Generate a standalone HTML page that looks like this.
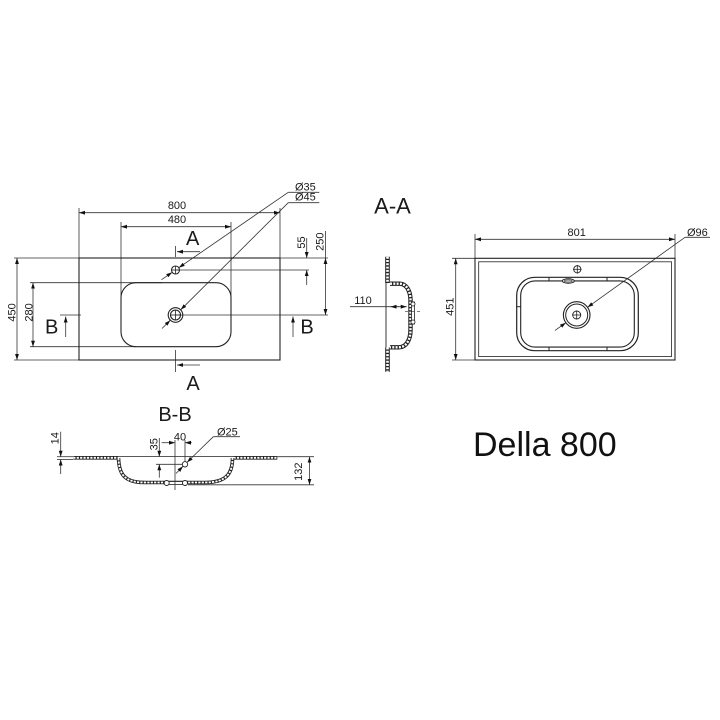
<!DOCTYPE html>
<html><head><meta charset="utf-8"><style>
html,body{margin:0;padding:0;background:#fff;}
svg{display:block;}
text{font-family:"Liberation Sans",sans-serif;fill:#1a1a1a;}
.d{font-size:11px;}
.s{font-size:20px;}
</style></head><body>
<svg width="720" height="720" viewBox="0 0 720 720" xmlns="http://www.w3.org/2000/svg">
<defs>
<marker id="a" viewBox="0 0 10 10" refX="10" refY="5" markerWidth="6" markerHeight="6" orient="auto-start-reverse" markerUnits="userSpaceOnUse">
<path d="M0,1.8 L10,5 L0,8.2 z" fill="#111"/>
</marker>
</defs>
<rect width="720" height="720" fill="#fff"/>

<!-- ================= TOP VIEW ================= -->
<g stroke="#333" stroke-width="0.8" fill="none">
  <line x1="79" y1="208" x2="79" y2="258"/>
  <line x1="280" y1="208" x2="280" y2="258"/>
  <line x1="79" y1="212.7" x2="280" y2="212.7" marker-start="url(#a)" marker-end="url(#a)"/>
  <line x1="121" y1="222" x2="121" y2="297"/>
  <line x1="231" y1="222" x2="231" y2="297"/>
  <line x1="121" y1="226.7" x2="231" y2="226.7" marker-start="url(#a)" marker-end="url(#a)"/>
  <line x1="14" y1="258" x2="328" y2="258"/>
  <line x1="14" y1="360" x2="79" y2="360"/>
  <line x1="30" y1="282.7" x2="162" y2="282.7"/>
  <line x1="30" y1="346.7" x2="136" y2="346.7"/>
  <line x1="175.5" y1="270" x2="309" y2="270"/>
  <line x1="175.5" y1="315" x2="328" y2="315"/>
  <line x1="60" y1="315" x2="81" y2="315"/>
  <line x1="17" y1="258" x2="17" y2="360" marker-start="url(#a)" marker-end="url(#a)"/>
  <line x1="33" y1="282.7" x2="33" y2="346.7" marker-start="url(#a)" marker-end="url(#a)"/>
  <line x1="306.7" y1="238" x2="306.7" y2="258" marker-end="url(#a)"/>
  <line x1="306.7" y1="285" x2="306.7" y2="270" marker-end="url(#a)"/>
  <line x1="325.5" y1="231" x2="325.5" y2="258"/>
  <line x1="325.5" y1="258" x2="325.5" y2="315" marker-start="url(#a)" marker-end="url(#a)"/>
  <line x1="175.5" y1="246" x2="175.5" y2="257"/>
  <line x1="200" y1="251.7" x2="177" y2="251.7" marker-end="url(#a)"/>
  <line x1="175.5" y1="350" x2="175.5" y2="372"/>
  <line x1="200" y1="365" x2="177" y2="365" marker-end="url(#a)"/>
  <line x1="65.7" y1="337" x2="65.7" y2="316.5" marker-end="url(#a)"/>
  <line x1="293" y1="337" x2="293" y2="316.5" marker-end="url(#a)"/>
  <line x1="288.3" y1="192.3" x2="319.3" y2="192.3"/>
  <line x1="288.3" y1="192.3" x2="178.8" y2="267.7" marker-end="url(#a)"/>
  <line x1="161.5" y1="279.7" x2="172.2" y2="272.3" marker-end="url(#a)"/>
  <line x1="288.3" y1="202.7" x2="319.3" y2="202.7"/>
  <line x1="288.3" y1="202.7" x2="180.7" y2="309.8" marker-end="url(#a)"/>
  <line x1="162" y1="328.5" x2="170.3" y2="320.2" marker-end="url(#a)"/>
</g>
<g stroke="#222" stroke-width="1.1" fill="none">
  <rect x="79" y="258" width="201" height="102"/>
  <rect x="121" y="282.7" width="110" height="64" rx="15"/>
  <circle cx="175.5" cy="270" r="4"/>
  <line x1="171.5" y1="270" x2="179.5" y2="270" stroke-width="0.8"/>
  <line x1="175.5" y1="266" x2="175.5" y2="274" stroke-width="0.8"/>
  <circle cx="175.5" cy="315" r="7.3"/>
  <circle cx="175.5" cy="315" r="5"/>
  <line x1="170.5" y1="315" x2="180.5" y2="315" stroke-width="0.8"/>
  <line x1="175.5" y1="310" x2="175.5" y2="320" stroke-width="0.8"/>
</g>
<text class="d" x="177" y="209" text-anchor="middle">800</text>
<text class="d" x="177" y="223" text-anchor="middle">480</text>
<text class="d" x="295" y="190.7">Ø35</text>
<text class="d" x="295" y="200.7">Ø45</text>
<text class="d" transform="translate(15.5,312.5) rotate(-90)" text-anchor="middle">450</text>
<text class="d" transform="translate(32.5,312.5) rotate(-90)" text-anchor="middle">280</text>
<text class="d" transform="translate(305,242.5) rotate(-90)" text-anchor="middle">55</text>
<text class="d" transform="translate(323.5,241.7) rotate(-90)" text-anchor="middle">250</text>
<text class="s" x="192.7" y="245" text-anchor="middle">A</text>
<text class="s" x="193" y="390" text-anchor="middle">A</text>
<text class="s" x="51.7" y="333.3" text-anchor="middle">B</text>
<text class="s" x="307" y="333.3" text-anchor="middle">B</text>

<!-- ================= A-A SECTION ================= -->
<text x="392.5" y="213.3" text-anchor="middle" style="font-size:22px;">A-A</text>
<g fill="none">
  <path d="M387.5,256.7 L387.5,283 M387.5,347.5 L387.5,371.7" stroke="#222" stroke-width="4.6"/>
  <path d="M387.5,256.7 L387.5,283 M387.5,347.5 L387.5,371.7" stroke="#fff" stroke-width="2.6" stroke-dasharray="2 1.3"/>
  <path d="M390,283.7 L400,283.7 C407,284 410.5,292 410.5,300 L410.5,330 C410.5,340 406,347.3 399,347.3 L390,347.3" stroke="#222" stroke-width="4.4"/>
  <path d="M390,283.7 L400,283.7 C407,284 410.5,292 410.5,300 L410.5,330 C410.5,340 406,347.3 399,347.3 L390,347.3" stroke="#fff" stroke-width="2.4" stroke-dasharray="2 1.3"/>
  <line x1="386" y1="283" x2="386" y2="347.5" stroke="#222" stroke-width="0.9"/>
  <rect x="411.5" y="302" width="3" height="22" stroke="#222" stroke-width="0.8" fill="#fff"/>
  <circle cx="413" cy="304" r="2" stroke="#222" stroke-width="0.8" fill="#fff"/>
  <circle cx="413" cy="322" r="2" stroke="#222" stroke-width="0.8" fill="#fff"/>
  <line x1="405" y1="311.7" x2="421" y2="311.7" stroke="#333" stroke-width="0.7" stroke-dasharray="3 3"/>
  <line x1="350" y1="306.7" x2="406.7" y2="306.7" stroke="#333" stroke-width="0.8" marker-end="url(#a)"/>
  <line x1="399" y1="306.7" x2="390.5" y2="306.7" stroke="#333" stroke-width="0.8" marker-end="url(#a)"/>
</g>
<text class="d" x="363" y="304" text-anchor="middle">110</text>

<!-- ================= RIGHT VIEW ================= -->
<g stroke="#333" stroke-width="0.8" fill="none">
  <line x1="475" y1="234" x2="475" y2="258"/>
  <line x1="675" y1="234" x2="675" y2="258"/>
  <line x1="475" y1="239.3" x2="675" y2="239.3" marker-start="url(#a)" marker-end="url(#a)"/>
  <line x1="452" y1="258.3" x2="475" y2="258.3"/>
  <line x1="452" y1="360" x2="475" y2="360"/>
  <line x1="455.7" y1="258.3" x2="455.7" y2="360" marker-start="url(#a)" marker-end="url(#a)"/>
  <line x1="685" y1="237.3" x2="710" y2="237.3"/>
  <line x1="685" y1="237.3" x2="587.5" y2="307.3" marker-end="url(#a)"/>
  <line x1="555" y1="330.4" x2="565.9" y2="322.7" marker-end="url(#a)"/>
</g>
<g stroke="#222" fill="none">
  <rect x="475" y="258.3" width="200" height="101.7" stroke-width="1.1"/>
  <rect x="478.7" y="261.8" width="192.8" height="94.8" stroke-width="0.8"/>
  <rect x="516.7" y="277.3" width="121.6" height="73.4" rx="18" stroke-width="1.2"/>
  <rect x="520.7" y="280.9" width="113.6" height="66.2" rx="14.5" stroke-width="1.1"/>
  <line x1="549" y1="277.3" x2="549" y2="280.9" stroke-width="1"/>
  <line x1="607" y1="277.3" x2="607" y2="280.9" stroke-width="1"/>
  <line x1="549" y1="347.1" x2="549" y2="350.7" stroke-width="1"/>
  <line x1="607" y1="347.1" x2="607" y2="350.7" stroke-width="1"/>
  <line x1="516.7" y1="306.7" x2="520.7" y2="306.7" stroke-width="1"/>
  <ellipse cx="568.3" cy="281" rx="6" ry="2.2" stroke-width="1" fill="#fff"/>
  <ellipse cx="568.3" cy="281" rx="4" ry="1" stroke-width="0.7"/>
  <circle cx="577.3" cy="269.3" r="3.6" stroke-width="0.9"/>
  <line x1="573" y1="269.3" x2="581.6" y2="269.3" stroke-width="0.8"/>
  <line x1="577.3" y1="265" x2="577.3" y2="273.6" stroke-width="0.8"/>
  <circle cx="576.7" cy="315" r="13.3" stroke-width="1.1"/>
  <circle cx="576.7" cy="315" r="11" stroke-width="1"/>
  <circle cx="576.7" cy="315" r="4" stroke-width="0.9"/>
  <line x1="572.2" y1="315" x2="581.2" y2="315" stroke-width="0.8"/>
  <line x1="576.7" y1="310.5" x2="576.7" y2="319.5" stroke-width="0.8"/>
</g>
<text class="d" x="576.7" y="236" text-anchor="middle">801</text>
<text class="d" x="687" y="236">Ø96</text>
<text class="d" transform="translate(453.7,306.7) rotate(-90)" text-anchor="middle">451</text>

<!-- ================= B-B SECTION ================= -->
<text class="s" x="175" y="421" text-anchor="middle">B-B</text>
<g fill="none">
  <path d="M73.3,457.8 L118,457.8 M233.5,457.8 L277.3,457.8" stroke="#222" stroke-width="3.6"/>
  <path d="M73.3,457.8 L118,457.8 M233.5,457.8 L277.3,457.8" stroke="#fff" stroke-width="1.8" stroke-dasharray="2.2 1.2"/>
  <path d="M118.5,458 C119,474 124,482.5 145,482.5 L205,482.5 C226,482.5 232.5,474 232.5,458" stroke="#222" stroke-width="3.6"/>
  <path d="M118.5,458 C119,474 124,482.5 145,482.5 L205,482.5 C226,482.5 232.5,474 232.5,458" stroke="#fff" stroke-width="1.8" stroke-dasharray="2.2 1.2"/>
  <line x1="118" y1="456.5" x2="233.5" y2="456.5" stroke="#222" stroke-width="0.8"/>
  <rect x="167" y="481.5" width="18" height="3" stroke="#222" stroke-width="0.8" fill="#fff"/>
  <circle cx="166.7" cy="483" r="2.5" stroke="#222" stroke-width="0.9" fill="#fff"/>
  <circle cx="185" cy="483" r="2.5" stroke="#222" stroke-width="0.9" fill="#fff"/>
</g>
<g stroke="#333" stroke-width="0.8" fill="none">
  <line x1="57" y1="456.7" x2="73" y2="456.7"/>
  <line x1="57" y1="459.5" x2="73" y2="459.5"/>
  <line x1="60.7" y1="431.7" x2="60.7" y2="456.7" marker-end="url(#a)"/>
  <line x1="60.7" y1="474" x2="60.7" y2="459.5" marker-end="url(#a)"/>
  <line x1="277.3" y1="456.7" x2="314" y2="456.7"/>
  <line x1="188" y1="484.8" x2="314" y2="484.8"/>
  <line x1="309.5" y1="456.7" x2="309.5" y2="484.8" marker-start="url(#a)" marker-end="url(#a)"/>
  <line x1="156" y1="464.3" x2="185" y2="464.3"/>
  <line x1="159.3" y1="438" x2="159.3" y2="456.7" marker-end="url(#a)"/>
  <line x1="159.3" y1="477.7" x2="159.3" y2="464.3" marker-end="url(#a)"/>
  <line x1="175" y1="440" x2="175" y2="490"/>
  <line x1="185" y1="440" x2="185" y2="464.3"/>
  <line x1="161.7" y1="442.7" x2="175" y2="442.7" marker-end="url(#a)"/>
  <line x1="191.7" y1="442.7" x2="185" y2="442.7" marker-end="url(#a)"/>
  <line x1="213.3" y1="436.7" x2="240" y2="436.7"/>
  <line x1="213.3" y1="436.7" x2="187" y2="462.4" marker-end="url(#a)"/>
  <line x1="176" y1="473.5" x2="183" y2="466.3" marker-end="url(#a)"/>
</g>
<circle cx="185" cy="464.3" r="2.7" fill="#fff" stroke="#222" stroke-width="0.9"/>
<text class="d" x="180" y="440.7" text-anchor="middle">40</text>
<text class="d" x="217" y="435.7">Ø25</text>
<text class="d" transform="translate(58.3,438.3) rotate(-90)" text-anchor="middle">14</text>
<text class="d" transform="translate(157.3,444.3) rotate(-90)" text-anchor="middle">35</text>
<text class="d" transform="translate(302,471.7) rotate(-90)" text-anchor="middle">132</text>

<!-- ================= TITLE ================= -->
<text x="473" y="456" style="font-size:34px;fill:#111;">Della 800</text>
</svg>
</body></html>
